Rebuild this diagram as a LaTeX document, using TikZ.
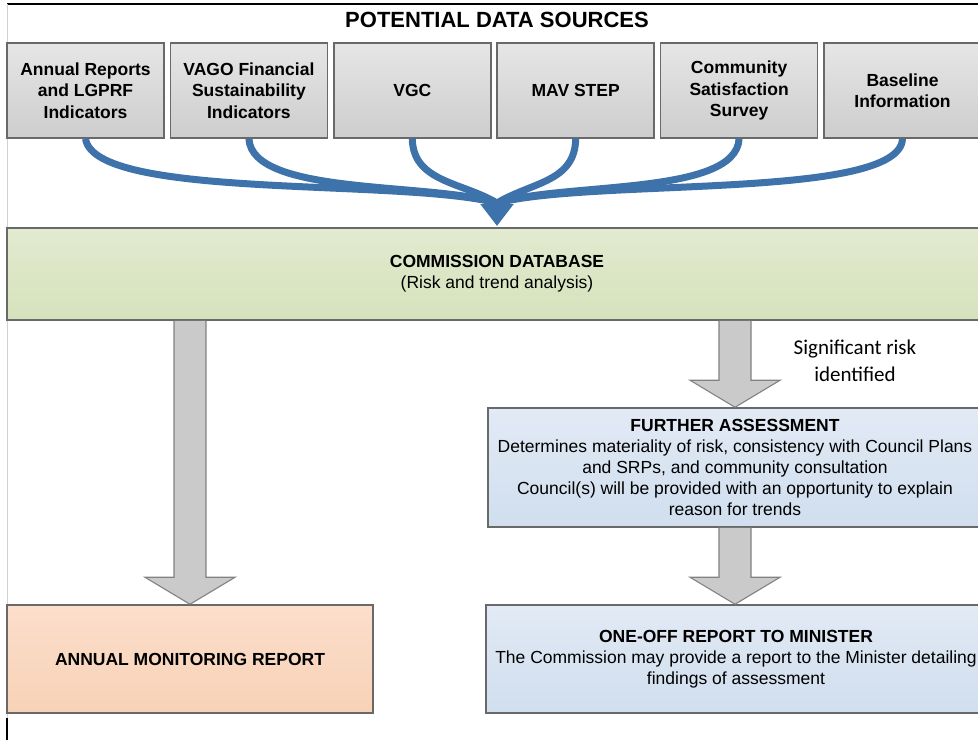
\documentclass[tikz,border=0pt]{standalone}
\usepackage{fontspec}
\setmainfont{Liberation Sans}
\newfontfamily\calibri{Carlito}
\usetikzlibrary{arrows.meta,calc}
\definecolor{flowblue}{RGB}{62,114,170}
\definecolor{boxline}{RGB}{105,105,105}
\definecolor{greytop}{RGB}{230,230,230}
\definecolor{greybot}{RGB}{205,205,205}
\definecolor{dbtop}{RGB}{226,234,208}
\definecolor{dbbot}{RGB}{214,226,188}
\definecolor{bluetop}{RGB}{226,234,245}
\definecolor{bluebot}{RGB}{208,222,238}
\definecolor{peachtop}{RGB}{251,222,204}
\definecolor{peachbot}{RGB}{248,210,182}
\definecolor{arrfill}{RGB}{202,202,202}
\definecolor{arrline}{RGB}{130,130,130}
\tikzstyle{srcbox}=[draw=boxline,line width=1.5pt,top color=greytop,bottom color=greybot,minimum width=157pt,minimum height=95pt,inner sep=0pt,align=center,font=\fontsize{17.5}{21.5}\selectfont\bfseries]
\tikzstyle{dbbox}=[draw=boxline,line width=1.5pt,top color=dbtop,bottom color=dbbot,minimum width=980pt,minimum height=92pt,inner sep=0pt,align=center,font=\fontsize{17.5}{21}\selectfont]
\tikzstyle{bluebox}=[draw=boxline,line width=1.5pt,top color=bluetop,bottom color=bluebot,inner sep=0pt,align=center,font=\fontsize{17.5}{21}\selectfont]
\tikzstyle{peachbox}=[draw=boxline,line width=1.5pt,top color=peachtop,bottom color=peachbot,inner sep=0pt,align=center,font=\fontsize{17.5}{21}\selectfont]
\tikzstyle{flow}=[draw=flowblue,line width=7pt]
\tikzstyle{greyarr}=[draw=arrline,fill=arrfill,line width=1.1pt,line join=miter]
\newcommand{\greyarrow}[2]{%
  \filldraw[greyarr] let \p1=(#1), \p2=(#2) in
    (\x1-16,\y1) -- (\x1-16,\y2+27) -- (\x1-45,\y2+27) -- (\x1,\y2)
    -- (\x1+45,\y2+27) -- (\x1+16,\y2+27) -- (\x1+16,\y1);}

\begin{document}
\begin{tikzpicture}[x=1pt,y=-1pt]
  \useasboundingbox (0,0) rectangle (978,740);
  \clip (0,0) rectangle (978,740);
  \draw[black,line width=1.5pt] (7,4) -- (978,4);
  \draw[gray!35,line width=0.8pt] (7,4) -- (7,718);
  \draw[black,line width=1.2pt] (7,718) -- (7,740);

  \node[font=\fontsize{22}{26}\selectfont\bfseries] (title) at (497,20) {POTENTIAL DATA SOURCES};
  \foreach \i/\txt in {1/{Annual Reports\\and LGPRF\\Indicators},2/{VAGO Financial\\Sustainability\\Indicators},3/VGC,4/MAV STEP,5/{Community\\Satisfaction\\Survey},6/{Baseline\\Information}}{
    \node[srcbox] (s\i) at (85.5+163.4*\i-163.4,90.5) {\txt};
  }

  \coordinate (merge) at (497,203);
  \coordinate (tip) at (497,226);
  \draw[flow] (s1.south) .. controls (95,200) and (400,178) .. (merge);
  \draw[flow] (s2.south) .. controls (252,196) and (430,182) .. (merge);
  \draw[flow] (s3.south) .. controls (413,182) and (462,182) .. (merge);
  \draw[flow] (s4.south) .. controls (575,182) and (532,182) .. (merge);
  \draw[flow] (s5.south) .. controls (736,196) and (565,182) .. (merge);
  \draw[flow] (s6.south) .. controls (900,200) and (595,178) .. (merge);
  \draw[flow,-{Triangle[width=32pt,length=22pt]}] (merge) -- (tip);

  \node[dbbox] (db) at (497,274) {\textbf{COMMISSION DATABASE}\\(Risk and trend analysis)};
  \node[peachbox,minimum width=366pt,minimum height=108pt] (amr) at (190,659) {\textbf{ANNUAL MONITORING REPORT}};
  \node[bluebox,minimum width=494pt,minimum height=119pt] (fa) at (735,467.5)
    {\textbf{FURTHER ASSESSMENT}\\Determines materiality of risk, consistency with Council Plans\\and SRPs, and community consultation\\Council(s) will be provided with an opportunity to explain\\reason for trends};
  \node[bluebox,minimum width=500pt,minimum height=108pt] (oo) at (736,659)
    {\textbf{ONE-OFF REPORT TO MINISTER}\\The Commission may provide a report to the Minister detailing\\findings of assessment};
  \node[font=\calibri\fontsize{21}{27}\selectfont,align=center] (sig) at (855,361) {Significant risk\\identified};

  \greyarrow{db.south -| amr.north}{amr.north}
  \greyarrow{db.south -| fa.north}{fa.north}
  \greyarrow{fa.south}{oo.north}
\end{tikzpicture}
\end{document}
